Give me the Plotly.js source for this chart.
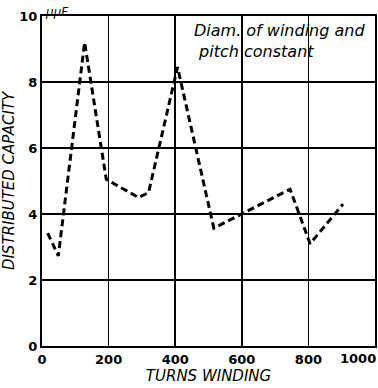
<!DOCTYPE html>
<html>
<head>
<meta charset="utf-8">
<script src="https://cdn.plot.ly/plotly-3.0.1.min.js"></script>
<style>html,body{margin:0;padding:0;background:#fff;}#chart{width:378px;height:388px;}</style>
</head>
<body>
<div id="chart"></div>
<script>
const turns = [17, 49, 128, 193, 290, 320, 407, 516, 745, 805, 904];
const capacity = [3.42, 2.73, 9.2, 5.05, 4.5, 4.65, 8.45, 3.57, 4.75, 3.1, 4.3];
const xTicks = [0, 200, 400, 600, 800, 1000];
const xTickText = ['0', '200', '400', '600', '800', '1000'];
const yTicks = [0, 2, 4, 6, 8, 10];
const yTickText = ['0', '2', '4', '6', '8', '10'];

const trace = {
  x: turns, y: capacity, type: 'scatter', mode: 'lines',
  line: {color: '#000', width: 3, dash: '7px,4px'},
  hoverinfo: 'skip'
};
const tickFont = {family: 'DejaVu Sans', size: 13, color: '#000', weight: 'bold'};
const titleFont = {family: 'DejaVu Sans', size: 15, color: '#000', style: 'italic'};
const lastX = xTicks.length - 1;
const shownXText = xTickText.map((t, i) => i === lastX ? '' : t);
const layout = {
  width: 378, height: 388,
  margin: {l: 42, r: 3, t: 16, b: 42},
  paper_bgcolor: '#fff', plot_bgcolor: '#fff',
  showlegend: false,
  xaxis: {
    range: [0, 1000], tickvals: xTicks, ticktext: shownXText,
    showgrid: true, gridcolor: '#000', gridwidth: 1.5,
    showline: true, linecolor: '#000', linewidth: 2, mirror: true,
    zeroline: false, ticks: '', tickfont: tickFont,
    title: {text: 'TURNS WINDING', font: titleFont, standoff: 2}
  },
  yaxis: {
    range: [0, 10], tickvals: yTicks, ticktext: yTickText,
    showgrid: true, gridcolor: '#000', gridwidth: 1.5,
    showline: true, linecolor: '#000', linewidth: 2, mirror: true,
    zeroline: false, ticks: '', tickfont: tickFont, ticklabeloverflow: 'allow',
    title: {text: 'DISTRIBUTED CAPACITY', font: titleFont, standoff: 6}
  },
  annotations: [
    {xref: 'x', yref: 'paper', x: xTicks[lastX], y: 0, xanchor: 'right', yanchor: 'top', xshift: 3, yshift: -3,
     text: xTickText[lastX], showarrow: false, font: tickFont},
    {xref: 'paper', yref: 'paper', x: 0.0, y: 1.0, xanchor: 'left', yanchor: 'bottom', yshift: -5, xshift: 1,
     text: 'μμF.', showarrow: false, font: {family: 'DejaVu Sans', size: 12, color: '#000', style: 'italic'}},
    {xref: 'paper', yref: 'paper', x: 0.45, y: 0.99, xanchor: 'left', yanchor: 'top', align: 'left',
     text: 'Diam. of winding and<br> pitch constant', showarrow: false,
     font: {family: 'DejaVu Sans', size: 16, color: '#000', style: 'italic'}}
  ]
};
Plotly.newPlot('chart', [trace], layout, {displayModeBar: false, staticPlot: true});
</script>
</body>
</html>
